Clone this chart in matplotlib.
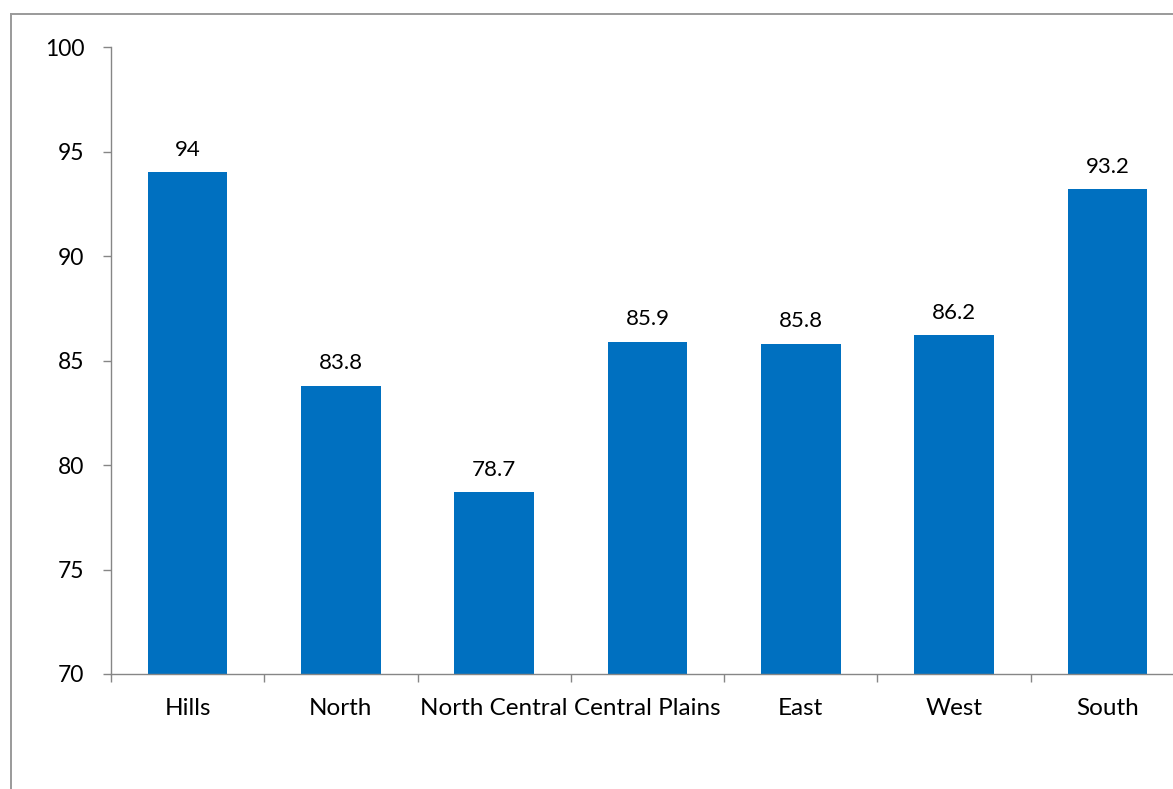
import matplotlib
matplotlib.use("Agg")
import matplotlib.pyplot as plt
from matplotlib.lines import Line2D
from matplotlib.ticker import FixedLocator

categories = ["Hills", "North", "North Central", "Central Plains", "East", "West", "South"]
values = [94, 83.8, 78.7, 85.9, 85.8, 86.2, 93.2]
value_labels = ["94", "83.8", "78.7", "85.9", "85.8", "86.2", "93.2"]
yticks = [70, 75, 80, 85, 90, 95, 100]

plt.rcParams['font.family'] = ['Lato', 'DejaVu Sans']

W, H = 1173, 789
fig = plt.figure(figsize=(W / 100, H / 100), dpi=100)
fig.patch.set_facecolor("white")

ax = fig.add_axes([111 / W, (H - 674) / H, 1073 / W, 627 / H])

x = list(range(len(categories)))
ax.bar(x, values, width=0.52, color="#0070C0", zorder=2)

for xi, v, lab in zip(x, values, value_labels):
    ax.annotate(lab, (xi, v), xytext=(0, 9), textcoords="offset points",
                ha="center", va="bottom", fontsize=16, color="#000000")

ax.set_xlim(-0.5, len(categories) - 0.5)
ax.set_ylim(70, 100)
ax.set_yticks(yticks)
ax.set_yticklabels([str(t) for t in yticks], fontsize=16.5)
ax.set_xticks(x)
ax.set_xticklabels(categories, fontsize=17.5)
ax.xaxis.set_minor_locator(FixedLocator([i - 0.5 for i in range(len(categories))]))

spine_c = "#868686"
for s in ["top", "right"]:
    ax.spines[s].set_visible(False)
for s in ["left", "bottom"]:
    ax.spines[s].set_color(spine_c)
    ax.spines[s].set_linewidth(1.0)

ax.tick_params(axis="x", which="major", length=0, pad=17, colors="#000000")
ax.tick_params(axis="x", which="minor", length=6, width=1.0, color=spine_c, direction="out")
ax.tick_params(axis="y", which="major", length=6, width=1.0, color=spine_c, pad=13, labelcolor="#000000")

# outer chart frame
fx = 10.5 / W
fy = 1 - 13.5 / H
fig.add_artist(Line2D([fx, fx], [0, fy], transform=fig.transFigure, color="#9a9a9a", lw=1.4))
fig.add_artist(Line2D([fx, 1.0], [fy, fy], transform=fig.transFigure, color="#9a9a9a", lw=1.4))

fig.savefig("out.png", dpi=100, facecolor="white")
